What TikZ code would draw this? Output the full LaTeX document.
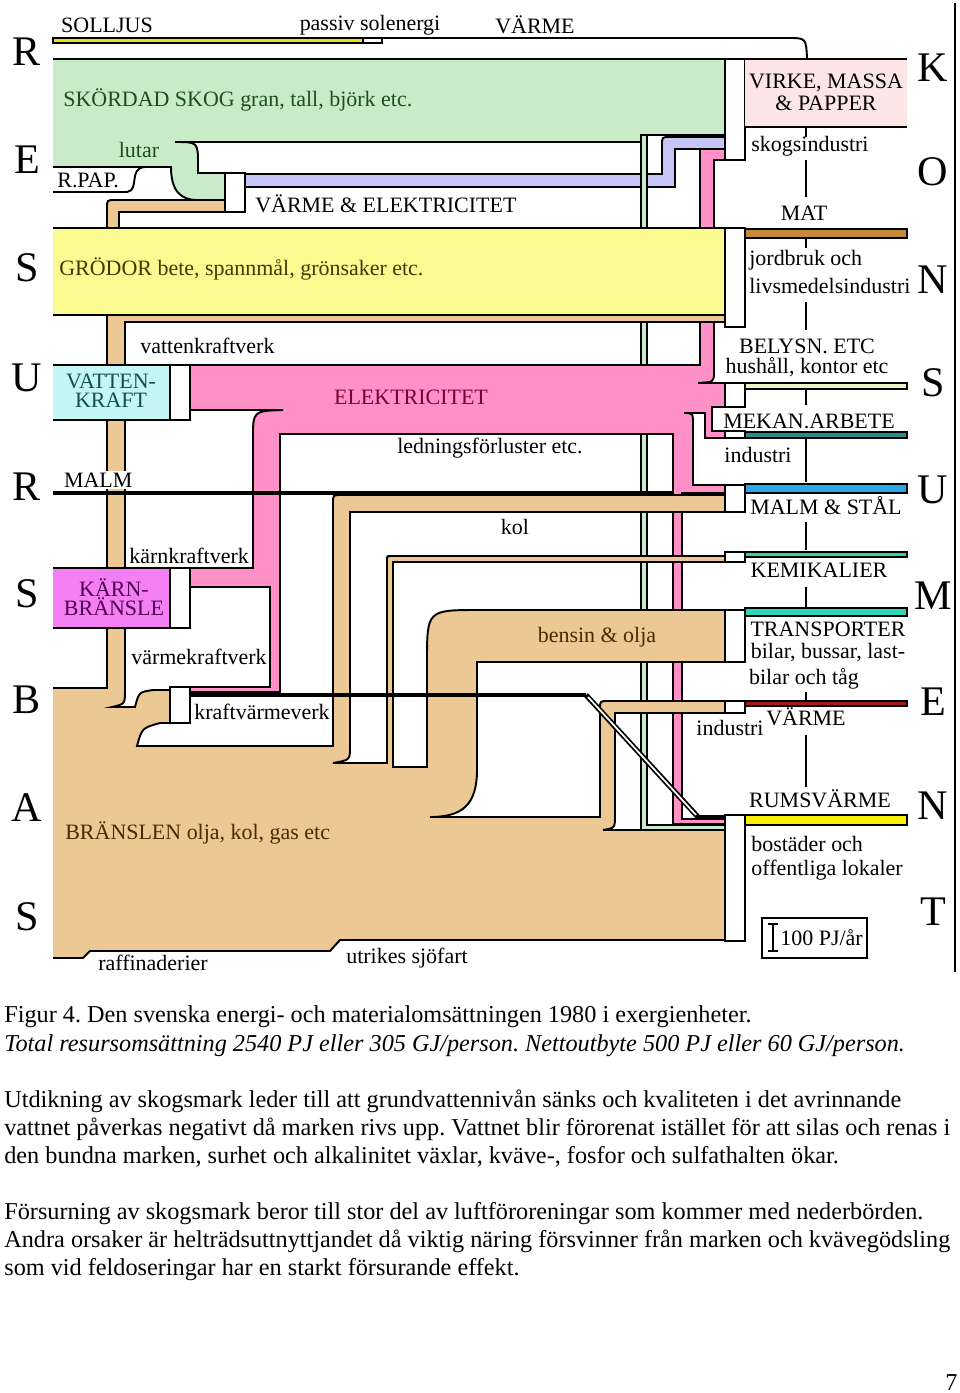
\documentclass[tikz,border=0pt]{standalone}
\usepackage{fontspec}
\setmainfont{Liberation Serif}
\frenchspacing
\definecolor{skog}{HTML}{C9EBC9}
\definecolor{grodor}{HTML}{FAFA90}
\definecolor{bransle}{HTML}{ECC894}
\definecolor{el}{HTML}{FF90C8}
\definecolor{vkraft}{HTML}{C4F6F6}
\definecolor{karn}{HTML}{F47EF4}
\definecolor{varmeel}{HTML}{C6C6F6}
\definecolor{virke}{HTML}{FCE5E5}
\definecolor{sol}{HTML}{E6E020}
\definecolor{mat}{HTML}{C48A3E}
\definecolor{belysn}{HTML}{EEF2C4}
\definecolor{mekan}{HTML}{2A8C8C}
\definecolor{malmst}{HTML}{2AA8E6}
\definecolor{kemi}{HTML}{34D68A}
\definecolor{transp}{HTML}{2ED8B6}
\definecolor{indv}{HTML}{A81818}
\definecolor{rumsv}{HTML}{F8F000}
\definecolor{txtskog}{HTML}{1E4E1E}
\definecolor{txtgrod}{HTML}{3C3C00}
\definecolor{txtel}{HTML}{7A0030}
\definecolor{txtbr}{HTML}{4A2A00}
\definecolor{txtvk}{HTML}{105050}
\definecolor{txtkarn}{HTML}{500050}
\begin{document}
\begin{tikzpicture}[x=0.02cm,y=-0.02cm,
  flow/.style={line width=1.1pt},
  conn/.style={fill=white,draw,line width=1pt},
  outband/.style={draw,line width=0.7pt},
  lbl/.style={inner sep=0pt,font=\fontsize{12.5}{13}\selectfont},
  big/.style={inner sep=0pt,font=\fontsize{24}{24}\selectfont},
  captxt/.style={inner sep=0pt,anchor=base west,font=\fontsize{13.8}{15}\selectfont}]
\useasboundingbox (0,0) rectangle (960,1393);

% solljus:
\filldraw[line width=0.8pt, fill=sol] (53,38) rectangle (363,43);
\draw[conn, line width=0.8pt] (363,38) rectangle (382,43);
\draw[flow] (382,38) -- (788,38) .. controls (806,38) .. (807,58);

% varme & elektricitet (skogsindustri):
\filldraw[flow, fill=varmeel] (245,174) -- (662,174) -- (662,145) .. controls (662,137) .. (670,137) -- (725,137) -- (725,149) -- (675,149) -- (675,187) -- (245,187) -- cycle;

% thin skog pipe to rumsvarme:
\filldraw[line width=0.7pt, fill=skog] (641,135) -- (641,830) -- (725,830) -- (725,825) -- (647,825) -- (647,135);

% elektricitet:
\filldraw[flow, fill=el] (190,365) -- (700,365) -- (700,149) -- (725,149) -- (725,160) -- (714,160) -- (714,372) .. controls (714,382) .. (698,383) -- (725,383) -- (725,407) -- (712,407) -- (712,431) -- (725,431) -- (725,438) -- (705,438) -- (705,413) -- (684,413) .. controls (693,413) .. (693,425) -- (693,485) -- (725,485) -- (725,493) -- (682,493) -- (682,819) -- (725,819) -- (725,824) -- (673,824) -- (673,434) -- (280,434) -- (280,692) -- (190,692) -- (190,687) -- (270,687) -- (270,587) -- (190,587) -- (190,568) -- (253,568) -- (253,438) .. controls (253,411) .. (283,410) -- (190,410);

% skordad skog:
\filldraw[flow, fill=skog] (53,59) -- (725,59) -- (725,135) -- (641,135) -- (641,142) -- (175,142) .. controls (198,142) .. (198,165) -- (198,173) -- (225,173) -- (225,200) -- (197,200) .. controls (180,200) and (171,190) .. (171,167) -- (53,167);
\draw[flow] (53,192) -- (127,192) .. controls (140,190) and (128,168) .. (145,167);

% branslen:
\filldraw[flow, fill=bransle] (53,688) -- (107,688) -- (107,208) .. controls (107,200) .. (115,200) -- (225,200) -- (225,212) -- (119,212) -- (119,315) -- (725,315) -- (725,322) -- (125,322) -- (125,690) .. controls (125,704) .. (112,707) -- (135,707) .. controls (139,692) .. (153,690) -- (170,690) -- (170,723) -- (160,723) .. controls (142,728) .. (137,746) -- (333,746) -- (333,503) .. controls (333,495) .. (341,495) -- (725,495) -- (725,512) -- (350,512) -- (350,747) .. controls (350,760) .. (333,763) -- (387,763) -- (387,560) .. controls (387,556) .. (391,556) -- (725,556) -- (725,562) -- (393,562) -- (393,767) -- (427,767) -- (427,662) .. controls (427,610) .. (479,610) -- (725,610) -- (725,662) -- (477,662) -- (477,770) .. controls (477,805) and (462,817) .. (430,817) -- (600,817) -- (600,709) .. controls (600,701) .. (608,701) -- (725,701) -- (725,713) -- (615,713) -- (615,815) .. controls (615,828) .. (603,830) -- (725,830) -- (725,940) -- (340,940) -- (330,951) -- (90,951) -- (83,958) -- (53,958);

% grodor:
\fill[grodor] (53,228) rectangle (725,315);
\draw[flow] (53,228) -- (725,228) -- (725,315) -- (53,315);

% vattenkraft, karnbransle:
\fill[vkraft] (53,365) rectangle (170,420);
\draw[flow] (53,365) -- (170,365) -- (170,420) -- (53,420);
\fill[karn] (53,568) rectangle (170,628);
\draw[flow] (53,568) -- (170,568) -- (170,628) -- (53,628);

% malm:
\draw[line width=1.8pt] (53,493) -- (672,493);

% varme from kraftvarmeverk:
\draw[line width=2pt] (190,695) -- (586,695);
\draw[line width=3pt] (586,695) -- (698,817);
\draw[white, line width=1pt] (588,697) -- (696,815);
\draw[line width=2pt] (696,817) -- (725,817);

% plants:
\draw[conn] (170,365) rectangle (190,420);
\draw[conn] (170,568) rectangle (190,628);
\draw[conn] (170,687) rectangle (190,723);
\draw[conn] (225,173) rectangle (245,212);

% sectors:
\draw[conn] (725,59) rectangle (745,160);
\draw[conn] (725,228) rectangle (745,327);
\draw[conn] (725,383) rectangle (745,407);
\draw[conn] (725,431) rectangle (745,438);
\draw[conn] (725,485) rectangle (745,512);
\draw[conn] (725,552) rectangle (745,562);
\draw[conn] (725,610) rectangle (745,662);
\draw[conn] (725,701) rectangle (745,713);
\draw[conn] (725,815) rectangle (745,941);

% outputs:
\fill[virke] (745,59) rectangle (907,127);
\draw[flow] (745,59) -- (907,59) (745,127) -- (907,127);
\filldraw[outband, fill=mat] (745,229) rectangle (907,238);
\filldraw[outband, fill=belysn] (745,383) rectangle (907,389);
\filldraw[outband, fill=mekan] (745,432) rectangle (907,438);
\filldraw[outband, fill=malmst] (745,484) rectangle (907,493);
\filldraw[outband, fill=kemi] (745,552) rectangle (907,557);
\filldraw[outband, fill=transp] (745,608) rectangle (907,616);
\filldraw[outband, fill=indv] (745,701) rectangle (907,706);
\filldraw[outband, fill=rumsv] (745,815) rectangle (907,825);

% ticks:
\draw[line width=1pt] (806,127) -- (806,137) (806,160) -- (806,197) (806,238) -- (806,248) (806,302) -- (806,330) (806,389) -- (806,405) (806,438) -- (806,482) (806,522) -- (806,550) (806,587) -- (806,607) (806,692) -- (806,701) (806,735) -- (806,787);
\draw[line width=1.5pt] (955,3) -- (955,972);

% scale:
\draw[line width=0.8pt] (762,918) rectangle (867,958);
\draw[line width=1.4pt] (773,924) -- (773,951);
\draw[line width=1pt] (768,924) -- (778,924) (768,951) -- (778,951);
\node[lbl, anchor=west] (skala) at (780,938) {100 PJ/år};

% resurser:
\node[big] (r1) at (27,52) {R};
\node[big] (e1) at (27,160) {E};
\node[big] (s1) at (27,268) {S};
\node[big] (u1) at (27,378) {U};
\node[big] (r2) at (27,487) {R};
\node[big] (s2) at (27,594) {S};
\node[big] (b1) at (27,700) {B};
\node[big] (a1) at (27,808) {A};
\node[big] (s3) at (27,917) {S};

% konsument:
\node[big] (k1) at (933,68) {K};
\node[big] (o1) at (933,172) {O};
\node[big] (n1) at (933,280) {N};
\node[big] (s4) at (933,383) {S};
\node[big] (u2) at (933,490) {U};
\node[big] (m1) at (933,596) {M};
\node[big] (e2) at (933,702) {E};
\node[big] (n2) at (933,806) {N};
\node[big] (t1) at (933,912) {T};

% labels:
\node[lbl] (solljus) at (107,25) {SOLLJUS};
\node[lbl] (passiv) at (370,25) {passiv solenergi};
\node[lbl] (varme1) at (535,25) {VÄRME};
\node[lbl, anchor=west, text=txtskog] (skog) at (63,100) {SKÖRDAD SKOG gran, tall, björk etc.};
\node[lbl, text=txtskog] (lutar) at (139,150) {lutar};
\node[lbl, anchor=west] (rpap) at (57,180) {R.PAP.};
\node[lbl, anchor=west] (varmeel) at (255,204) {VÄRME \& ELEKTRICITET};
\node[lbl, anchor=west, text=txtgrod] (grodor) at (59,269) {GRÖDOR bete, spannmål, grönsaker etc.};
\node[lbl, anchor=west] (vkv) at (140,346) {vattenkraftverk};
\node[lbl, align=center, text=txtvk, font=\fontsize{12.5}{11}\selectfont] (vatten) at (111,391) {VATTEN-\\KRAFT};
\node[lbl, text=txtel] (elek) at (411,397) {ELEKTRICITET};
\node[lbl] (ledn) at (490,448) {ledningsförluster etc.};
\node[lbl, anchor=west, fill=white, inner sep=1pt] (malm) at (62,480) {MALM};
\node[lbl] (kol) at (515,527) {kol};
\node[lbl, anchor=west] (kkv) at (129,556) {kärnkraftverk};
\node[lbl, align=center, text=txtkarn, font=\fontsize{12.5}{11}\selectfont] (karnb) at (114,597) {KÄRN-\\BRÄNSLE};
\node[lbl, anchor=west] (vmkv) at (131,657) {värmekraftverk};
\node[lbl, text=txtbr] (bensin) at (597,637) {bensin \& olja};
\node[lbl, anchor=west] (kvv) at (194,712) {kraftvärmeverk};
\node[lbl, anchor=west, text=txtbr] (bransle) at (65,833) {BRÄNSLEN olja, kol, gas etc};
\node[lbl] (raff) at (153,963) {raffinaderier};
\node[lbl] (sjofart) at (407,958) {utrikes sjöfart};

% konsument labels:
\node[lbl, align=center, font=\fontsize{12.5}{12.5}\selectfont] (virke) at (826,92) {VIRKE, MASSA\\\& PAPPER};
\node[lbl] (skogsind) at (810,146) {skogsindustri};
\node[lbl] (mat) at (804,213) {MAT};
\node[lbl, anchor=west] (jordbr) at (749,260) {jordbruk och};
\node[lbl, anchor=west] (livsm) at (749,286) {livsmedelsindustri};
\node[lbl] (belysn) at (807,346) {BELYSN. ETC};
\node[lbl] (hush) at (807,367) {hushåll, kontor etc};
\node[lbl] (mekan) at (809,421) {MEKAN.ARBETE};
\node[lbl] (ind1) at (758,455) {industri};
\node[lbl] (malmst) at (826,506) {MALM \& STÅL};
\node[lbl] (kemi) at (819,570) {KEMIKALIER};
\node[lbl] (transp) at (828,629) {TRANSPORTER};
\node[lbl] (bilar1) at (828,653) {bilar, bussar, last-};
\node[lbl] (bilar2) at (804,679) {bilar och tåg};
\node[lbl] (ind2) at (730,728) {industri};
\node[lbl] (varme2) at (806,717) {VÄRME};
\node[lbl] (rumsv) at (820,799) {RUMSVÄRME};
\node[lbl, anchor=west] (bost) at (751,844) {bostäder och};
\node[lbl, anchor=west] (offl) at (751,870) {offentliga lokaler};

% caption:
\node[captxt] (c1) at (4,1022) {Figur 4. Den svenska energi- och materialomsättningen 1980 i exergienheter.};
\node[captxt, font=\fontsize{13.8}{15}\selectfont\itshape] (c2) at (4,1051) {Total resursomsättning 2540 PJ eller 305 GJ/person. Nettoutbyte 500 PJ eller 60 GJ/person.};
\node[captxt] (c3) at (4,1107) {Utdikning av skogsmark leder till att grundvattennivån sänks och kvaliteten i det avrinnande};
\node[captxt] (c4) at (4,1135) {vattnet påverkas negativt då marken rivs upp. Vattnet blir förorenat istället för att silas och renas i};
\node[captxt] (c5) at (4,1163) {den bundna marken, surhet och alkalinitet växlar, kväve-, fosfor och sulfathalten ökar.};
\node[captxt] (c6) at (4,1219) {Försurning av skogsmark beror till stor del av luftföroreningar som kommer med nederbörden.};
\node[captxt] (c7) at (4,1247) {Andra orsaker är helträdsuttnyttjandet då viktig näring försvinner från marken och kvävegödsling};
\node[captxt] (c8) at (4,1275) {som vid feldoseringar har en starkt försurande effekt.};
\node[captxt] (sida) at (945,1390) {7};
\end{tikzpicture}
\end{document}
